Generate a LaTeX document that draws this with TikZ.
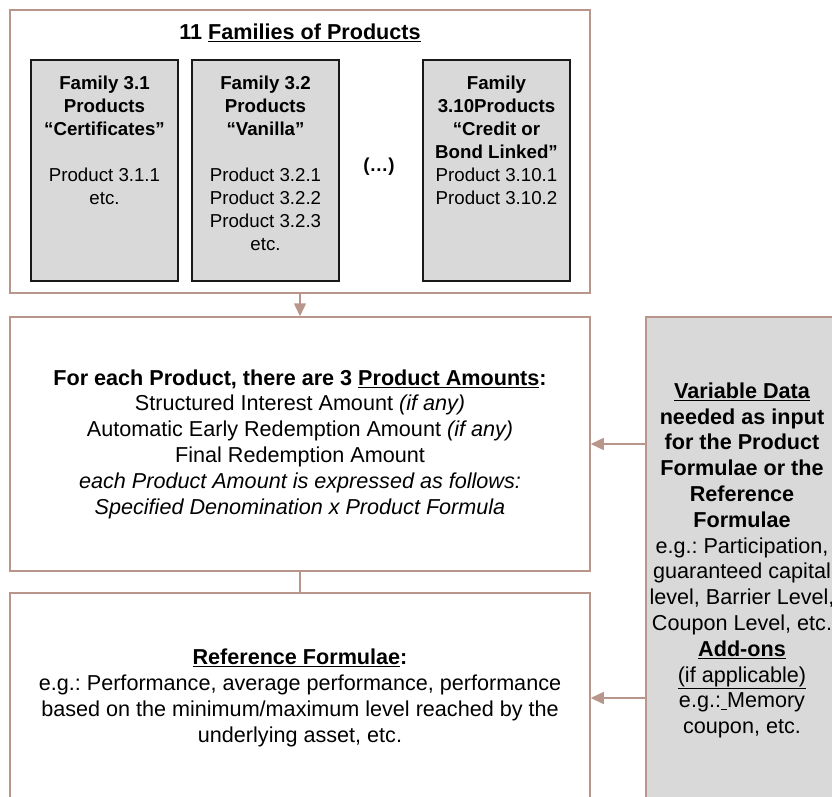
\documentclass[tikz,border=0pt]{standalone}
\usepackage{fontspec}
\setmainfont{Liberation Sans}
\usetikzlibrary{positioning,arrows.meta}
\definecolor{frameline}{RGB}{184,150,140}
\definecolor{famgray}{RGB}{217,217,217}
\newcommand{\bigtext}{\fontsize{21.6}{25.8}\selectfont}
\newcommand{\famtext}{\fontsize{18.7}{23}\selectfont}
\frenchspacing

\begin{document}
\begin{tikzpicture}[
    x=1pt, y=-1pt,
    frame/.style={rectangle, draw=frameline, line width=1.5pt, fill=white, inner sep=0pt, align=center, font=\bigtext},
    family/.style={rectangle, draw=black!90, line width=1.8pt, fill=famgray, minimum width=147pt, minimum height=221pt, inner sep=0pt},
    famlabel/.style={align=center, font=\famtext, inner sep=0pt},
    flow/.style={-{Triangle[length=13pt,width=12pt]}, draw=frameline, line width=1.5pt},
    link/.style={draw=frameline, line width=1.5pt}
]
    \useasboundingbox (0,0) rectangle (832,796);
    \clip (0,0) rectangle (832,796);

    \node[frame, minimum width=580pt, minimum height=283pt] (famframe) at (300,151.5) {};
    \node[font=\bigtext\bfseries, inner sep=0pt] (famtitle) at (300,33) {11 \underline{Families of Products}};

    \node[family] (fam31) at (104.5,170.5) {};
    \node[family] (fam32) at (265.5,170.5) {};
    \node[family] (fam310) at (496.5,170.5) {};

    \node[famlabel, below=16.5pt of fam31.north] (fam31txt) {
        \textbf{Family 3.1}\\ \textbf{Products}\\ \textbf{“Certificates”}\\[23pt]
        Product 3.1.1\\ etc.
    };
    \node[famlabel, below=16.5pt of fam32.north] (fam32txt) {
        \textbf{Family 3.2}\\ \textbf{Products}\\ \textbf{“Vanilla”}\\[23pt]
        Product 3.2.1\\ Product 3.2.2\\ Product 3.2.3\\ etc.
    };
    \node[famlabel, below=16.5pt of fam310.north] (fam310txt) {
        \textbf{Family}\\ \textbf{3.10Products}\\ \textbf{“Credit or}\\ \textbf{Bond Linked”}\\
        Product 3.10.1\\ Product 3.10.2
    };
    \node[famlabel, font=\famtext\bfseries] (morefam) at (379,167) {(…)};

    \node[frame, minimum width=580pt, minimum height=254pt] (amtframe) at (300,444) {
        \textbf{For each Product, there are 3 \underline{Product Amounts}:}\\
        Structured Interest Amount \textit{(if any)}\\
        Automatic Early Redemption Amount \textit{(if any)}\\
        Final Redemption Amount\\
        \textit{each Product Amount is expressed as follows:}\\
        \textit{Specified Denomination x Product Formula}
    };

    \node[frame, minimum width=580pt, minimum height=210pt] (refframe) at (300,698) {
        \textbf{\underline{Reference Formulae}:}\\
        e.g.: Performance, average performance, performance\\
        based on the minimum/maximum level reached by the\\
        underlying asset, etc.
    };

    \node[frame, fill=famgray, minimum width=192pt, minimum height=487pt] (varframe) at (742,560.5) {
        \textbf{\underline{Variable Data}}\\
        \textbf{needed as input}\\
        \textbf{for the Product}\\
        \textbf{Formulae or the}\\
        \textbf{Reference}\\
        \textbf{Formulae}\\
        e.g.: Participation,\\
        guaranteed capital\\
        level, Barrier Level,\\
        Coupon Level, etc.\\
        \textbf{\underline{Add-ons}}\\
        \underline{(if applicable)}\\
        e.g.:\underline{\ }Memory\\
        coupon, etc.
    };

    \draw[flow] (famframe) -- (amtframe);
    \draw[link] (amtframe) -- (refframe);
    \draw[flow] (varframe.west |- amtframe.east) -- (amtframe.east);
    \draw[flow] (varframe.west |- refframe.east) -- (refframe.east);
\end{tikzpicture}
\end{document}
